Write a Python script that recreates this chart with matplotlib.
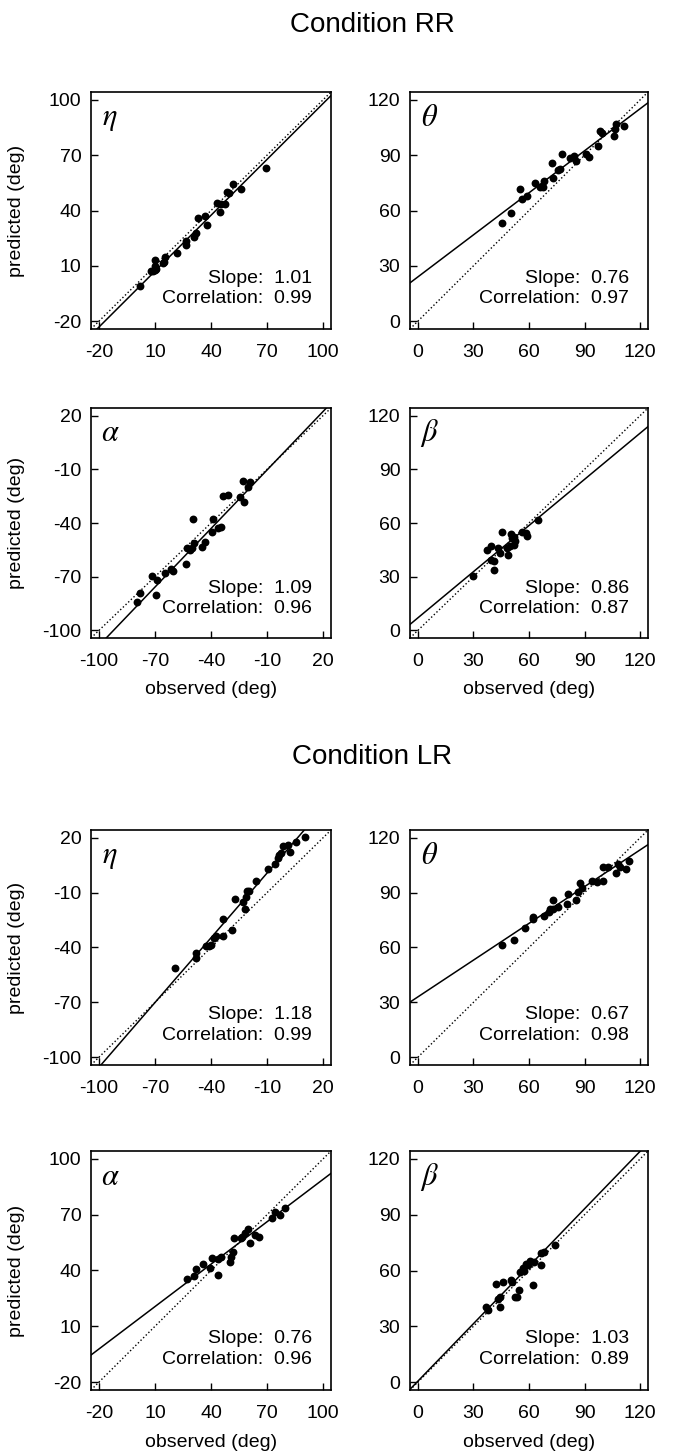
import matplotlib
matplotlib.use('Agg')
import matplotlib.pyplot as plt
import numpy as np
from matplotlib.patches import Rectangle

plt.rcParams['font.family'] = ['Liberation Sans', 'DejaVu Sans']
plt.rcParams['mathtext.fontset'] = 'stix'
plt.rcParams['axes.unicode_minus'] = False

# Condition RR, eta
rr_eta_x = [2, 8, 9, 10, 10.5, 10, 10, 14.5, 15, 15.4, 21.7, 26.6, 26.6, 31, 31.8, 33, 36.8,
            38, 43, 45, 45.3, 47.4, 48.7, 49.8, 52, 56, 69.6]
rr_eta_y = [-1, 7, 7, 7.5, 8, 13, 10, 11.5, 12, 15, 17.2, 23.6, 21.4, 25.4, 27.7, 36, 36.8,
            32, 44, 39, 43.6, 43.4, 49.8, 49.6, 54.3, 51.4, 63.3]
# Condition RR, theta
rr_theta_x = [45.6, 50.1, 54.9, 56.4, 59, 63.2, 66, 67.8, 68, 72.5, 73, 75.5, 77, 78, 82.4,
              84.5, 85.6, 90.8, 92.2, 97.4, 98.3, 99.7, 105.7, 106.6, 107, 111.4]
rr_theta_y = [53.3, 58.7, 71.8, 66, 67.8, 75.1, 72.9, 72.5, 76, 85.6, 77.5, 81.8, 82.4, 90.9,
              88.5, 89.6, 86.9, 90.5, 89, 95.1, 103.3, 102, 100.5, 104.2, 107, 106]
# Condition RR, alpha
rr_alpha_x = [-79.5, -78.1, -71.4, -69.5, -68.7, -64.4, -61.4, -60.1, -53.4, -52.9, -51.5,
              -50, -49.7, -49.3, -44.8, -43.4, -39.4, -38.9, -36.3, -34.9, -33.5, -31,
              -24.5, -23, -22.1, -20.1, -19]
rr_alpha_y = [-84.1, -79.1, -69.5, -80, -71.7, -67.7, -65.8, -67.1, -63, -54.2, -55.1,
              -54.2, -37.6, -51.4, -53.3, -50.9, -45, -37.6, -42.8, -42.4, -25, -24.3,
              -25.6, -16.4, -28.4, -20, -17.3]
# Condition RR, beta
rr_beta_x = [29.8, 37.2, 39.3, 39.7, 41.1, 40.9, 43.4, 44.1, 45.4, 48.2, 48.8, 49.9, 50.4,
             51, 51.9, 52, 52.2, 56, 58.6, 59, 64.6]
rr_beta_y = [30.6, 45.1, 47, 39.5, 39, 33.6, 46, 43.3, 54.8, 46, 42.3, 47, 53.9,
             51.6, 52.2, 47.5, 50.1, 54.8, 54.4, 52.9, 61.7]

# Condition LR, eta
lr_eta_x = [-59.2, -48, -47.9, -42.6, -41.2, -39.9, -38.5, -37.1, -33.8, -33.5, -28.6, -27.3,
            -22.7, -21.8, -21.4, -20.8, -19.4, -16, -9.6, -5.7, -4.2, -3.4, -2.5, -1.3,
            1.1, 2.5, 5.6, 10.6]
lr_eta_y = [-51.2, -42.9, -46, -39.1, -39.1, -38.6, -34.9, -33.9, -33.9, -24.6, -30.6, -13.5,
            -15, -19.1, -12.6, -9.2, -9, -3.8, 2.7, 5.5, 8.8, 10.7, 11.6, 15.4,
            15.9, 12, 17.8, 20.4]
# Condition LR, theta
lr_theta_x = [45.3, 52, 57.9, 62.4, 62.4, 68.2, 71, 71.4, 72.8, 73.2, 75.9, 80.4, 81.3, 85.4,
              86.3, 87.6, 88.5, 94.3, 96.6, 99.8, 100.2, 102.9, 106.9, 108.3, 109.2,
              112.3, 114.2]
lr_theta_y = [61.1, 64.2, 70.9, 75.5, 76.8, 77.2, 79.5, 80.9, 86.2, 80.8, 82, 84, 89.4, 86.2,
              90.3, 95.2, 92.5, 96.2, 95.7, 96.6, 103.8, 104.2, 100.6, 105.6, 104.3,
              102.9, 107.4]
# Condition LR, alpha
lr_alpha_x = [27.1, 30.7, 32.1, 35.6, 39.7, 40.6, 43.8, 43.7, 45.1, 50, 50.9, 51.9, 52.3,
              55.9, 56.8, 58.1, 59.9, 61, 63.5, 65.8, 72.5, 74.3, 77, 79.7]
lr_alpha_y = [35.4, 37.2, 40.6, 43.3, 41.5, 46.5, 37.5, 46, 47.4, 44.7, 47.4, 50.1, 57.7,
              57.7, 58.2, 60, 62.2, 55, 59.1, 57.9, 68.1, 71.4, 69.6, 73.5]
# Condition LR, beta
lr_beta_x = [36.7, 38.1, 42.1, 43.1, 44.4, 44.4, 45.7, 50.3, 50.7, 52.5, 53.4, 54.7, 55.2,
             56.5, 57.5, 58.4, 59.3, 60.6, 61.9, 62.8, 66.4, 66.4, 68.3, 74.1]
lr_beta_y = [40.4, 38.6, 53, 44.9, 45.5, 40.4, 53.9, 54.8, 53.6, 45.8, 45.8, 49.4, 59,
             61.2, 59.9, 63.5, 63, 64.9, 52.3, 64.4, 63.1, 69.3, 69.8, 73.8]

letters = [r'$\eta$', r'$\theta$', r'$\alpha$', r'$\beta$',
           r'$\eta$', r'$\theta$', r'$\alpha$', r'$\beta$']
slopes = [1.01, 0.76, 1.09, 0.86, 1.18, 0.67, 0.76, 1.03]
intercepts = [-3, 24, 0.5, 7, 12.5, 33, 13, 0.5]
correlations = [0.99, 0.97, 0.96, 0.87, 0.99, 0.98, 0.96, 0.89]
ticks_eta = [-20, 10, 40, 70, 100]
ticks_pos = [0, 30, 60, 90, 120]
ticks_neg = [-100, -70, -40, -10, 20]
panel_ticks = [ticks_eta, ticks_pos, ticks_neg, ticks_pos,
               ticks_neg, ticks_pos, ticks_eta, ticks_pos]
xs_all = [rr_eta_x, rr_theta_x, rr_alpha_x, rr_beta_x, lr_eta_x, lr_theta_x, lr_alpha_x, lr_beta_x]
ys_all = [rr_eta_y, rr_theta_y, rr_alpha_y, rr_beta_y, lr_eta_y, lr_theta_y, lr_alpha_y, lr_beta_y]

W, H = 673, 1454
fig = plt.figure(figsize=(W / 100, H / 100), dpi=100)

rows = [(92, 329), (408, 638), (830, 1065), (1151, 1390)]
cols = [(91, 331), (410, 648)]

for i in range(8):
    r, c = i // 2, i % 2
    top, bot = rows[r]
    left, right = cols[c]
    ax = fig.add_axes([left / W, 1 - bot / H, (right - left) / W, (bot - top) / H])
    ticks = panel_ticks[i]
    lo, hi = ticks[0] - 4.3, ticks[-1] + 4.3
    t = np.array([lo, hi])
    ax.plot(t, t, ls=':', color='k', lw=1)
    ax.plot(t, slopes[i] * t + intercepts[i], color='k', lw=1.1)
    ax.scatter(xs_all[i], ys_all[i], s=32, color='k', linewidths=0, zorder=3)
    ax.add_patch(Rectangle((lo, lo), 4.3, 4.3, fill=False, lw=0.6, ec='0.3'))
    ax.set_xlim(lo, hi)
    ax.set_ylim(lo, hi)
    ax.set_xticks(ticks)
    ax.set_yticks(ticks)
    ax.tick_params(direction='in', length=5, width=1, labelsize=14)
    ax.tick_params(axis='x', pad=11)
    ax.tick_params(axis='y', pad=7)
    for s in ax.spines.values():
        s.set_linewidth(1.2)
    ax.text(0.08, 0.89, letters[i], transform=ax.transAxes, fontsize=22,
            ha='center', va='center')
    ax.text(0.92, 0.215, f'Slope:  {slopes[i]:.2f}', transform=ax.transAxes,
            fontsize=14, ha='right', va='center')
    ax.text(0.92, 0.127, f'Correlation:  {correlations[i]:.2f}', transform=ax.transAxes,
            fontsize=14, ha='right', va='center')
    if c == 0:
        ax.set_ylabel('predicted (deg)', fontsize=14)
        ax.yaxis.set_label_coords(-0.275, 0.5)
    if r in (1, 3):
        ax.set_xlabel('observed (deg)', fontsize=14)
        ax.xaxis.set_label_coords(0.5, -0.185)

fig.text(372 / W, 1 - 25 / H, 'Condition RR', ha='center', va='center', fontsize=20)
fig.text(372 / W, 1 - 757 / H, 'Condition LR', ha='center', va='center', fontsize=20)

fig.savefig('out.png', dpi=100)
